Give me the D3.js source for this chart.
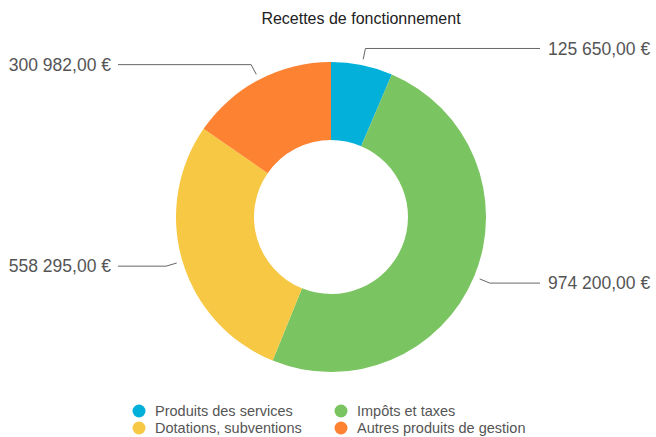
<!DOCTYPE html>
<html lang="fr">
<head>
  <meta charset="UTF-8">
  <title>Recettes de fonctionnement</title>
  <script src="https://cdn.jsdelivr.net/npm/d3@7"></script>
  <style>
    body { margin: 0; background: #fff; }
    svg { font-family: "Liberation Sans", Arial, sans-serif; }
  </style>
</head>
<body>
  <svg class="svg"></svg>
  <script>
    const categories = ['Produits des services', 'Impôts et taxes', 'Dotations, subventions', 'Autres produits de gestion'];
    const values = [125650, 974200, 558295, 300982];
    const valueLabels = ['125 650,00 €', '974 200,00 €', '558 295,00 €', '300 982,00 €'];
    const colors = ['#02b0d9', '#7bc462', '#f7c844', '#fd8232'];

    const w = 656;
    const h = 437;
    const cx = 331, cy = 217;
    const outerR = 155, innerR = 77;

    const svg = d3.select('.svg')
      .attr('width', w)
      .attr('height', h);

    svg.append('text')
      .attr('x', 361)
      .attr('y', 24)
      .attr('text-anchor', 'middle')
      .attr('font-size', 16)
      .attr('fill', '#222')
      .text('Recettes de fonctionnement');

    const data = categories.map((c, i) => ({ name: c, value: values[i], label: valueLabels[i], color: colors[i] }));

    const pie = d3.pie().value(d => d.value).sort(null);
    const arcs = pie(data);
    const arc = d3.arc().innerRadius(innerR).outerRadius(outerR);

    const g = svg.append('g').attr('transform', `translate(${cx},${cy})`);

    g.selectAll('path')
      .data(arcs)
      .enter()
      .append('path')
      .attr('d', arc)
      .attr('fill', d => d.data.color);

    // leader lines + value labels
    const startArc = d3.arc().innerRadius(161).outerRadius(161);
    const elbowArc = d3.arc().innerRadius(172).outerRadius(172);

    arcs.forEach(d => {
      const mid = (d.startAngle + d.endAngle) / 2;
      const right = mid < Math.PI;
      const p0 = startArc.centroid(d);
      const p1 = elbowArc.centroid(d);
      const p2 = [right ? 540 - cx : 118 - cx, p1[1]];
      g.append('polyline')
        .attr('points', [p0, p1, p2].map(p => p.join(',')).join(' '))
        .attr('fill', 'none')
        .attr('stroke', '#666')
        .attr('stroke-width', 1);
      g.append('text')
        .attr('x', right ? 548 - cx : 111 - cx)
        .attr('y', p1[1])
        .attr('dy', '0.35em')
        .attr('text-anchor', right ? 'start' : 'end')
        .attr('font-size', 17.5)
        .attr('fill', '#555')
        .text(d.data.label);
    });

    // legend
    const legendPos = [[139, 411], [341, 411], [139, 428], [341, 428]];
    const legend = svg.selectAll('.legend')
      .data(data)
      .enter()
      .append('g')
      .attr('class', 'legend')
      .attr('transform', (d, i) => `translate(${legendPos[i][0]},${legendPos[i][1]})`);

    legend.append('circle')
      .attr('r', 6.5)
      .attr('fill', d => d.color);

    legend.append('text')
      .attr('x', 16)
      .attr('dy', '0.35em')
      .attr('font-size', 14.5)
      .attr('fill', '#555')
      .text(d => d.name);
  </script>
</body>
</html>
